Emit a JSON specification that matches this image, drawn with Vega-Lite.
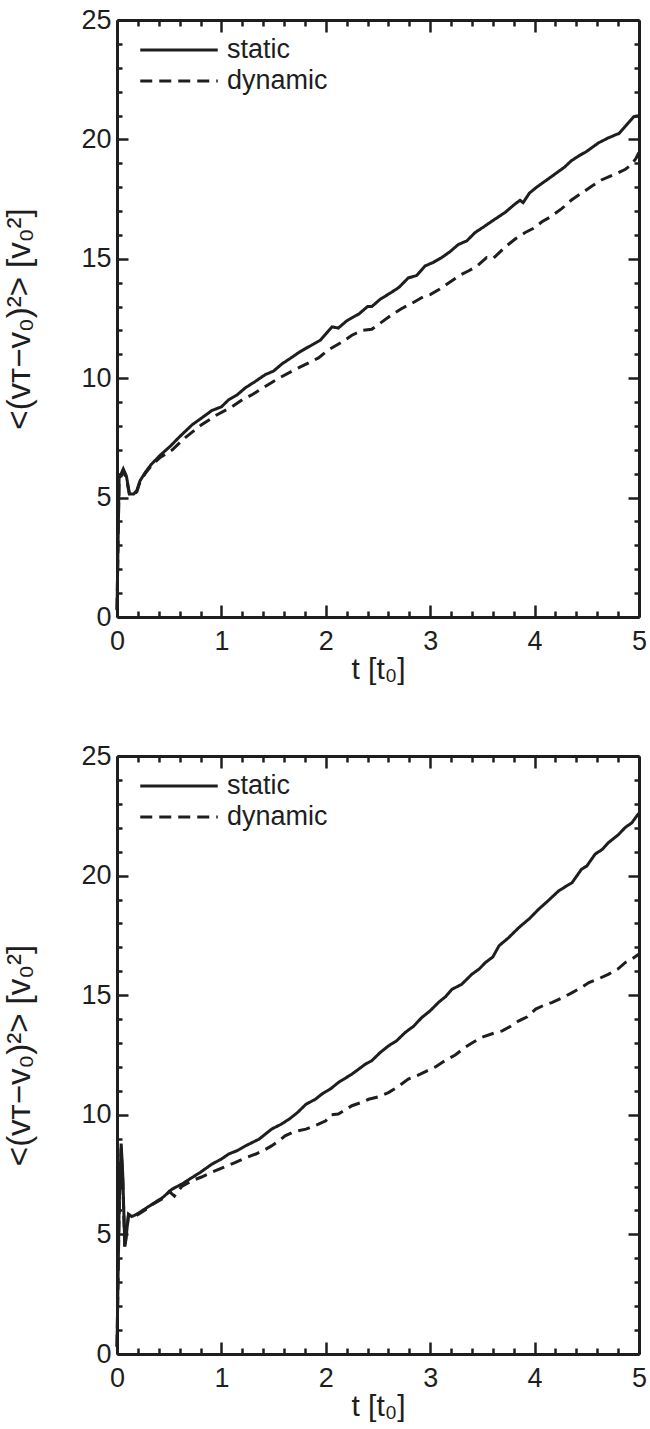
{
  "$schema": "https://vega.github.io/schema/vega-lite/v6.json",
  "background": "white",
  "padding": {"left": 3, "top": 6, "right": 4, "bottom": 4},
  "spacing": 139,
  "bounds": "flush",
  "datasets": {
    "curves": [
      {"panel":"top","series":"static","t":0,"v":0.3},{"panel":"top","series":"static","t":0.02,"v":5.8},{"panel":"top","series":"static","t":0.06,"v":6.2},{"panel":"top","series":"static","t":0.09,"v":5.9},{"panel":"top","series":"static","t":0.12,"v":5.15},{"panel":"top","series":"static","t":0.16,"v":5.15},{"panel":"top","series":"static","t":0.19,"v":5.3},{"panel":"top","series":"static","t":0.22,"v":5.7},{"panel":"top","series":"static","t":0.27,"v":6.05},{"panel":"top","series":"static","t":0.33,"v":6.4},{"panel":"top","series":"static","t":0.42,"v":6.8},{"panel":"top","series":"static","t":0.51,"v":7.15},{"panel":"top","series":"static","t":0.6,"v":7.55},{"panel":"top","series":"static","t":0.72,"v":8.05},{"panel":"top","series":"static","t":0.8,"v":8.3},{"panel":"top","series":"static","t":0.91,"v":8.65},{"panel":"top","series":"static","t":1.0,"v":8.8},{"panel":"top","series":"static","t":1.07,"v":9.1},{"panel":"top","series":"static","t":1.15,"v":9.3},{"panel":"top","series":"static","t":1.23,"v":9.6},{"panel":"top","series":"static","t":1.32,"v":9.85},{"panel":"top","series":"static","t":1.42,"v":10.15},{"panel":"top","series":"static","t":1.5,"v":10.3},{"panel":"top","series":"static","t":1.58,"v":10.6},{"panel":"top","series":"static","t":1.65,"v":10.8},{"panel":"top","series":"static","t":1.75,"v":11.1},{"panel":"top","series":"static","t":1.87,"v":11.4},{"panel":"top","series":"static","t":1.95,"v":11.6},{"panel":"top","series":"static","t":2.06,"v":12.15},{"panel":"top","series":"static","t":2.12,"v":12.1},{"panel":"top","series":"static","t":2.2,"v":12.4},{"panel":"top","series":"static","t":2.32,"v":12.7},{"panel":"top","series":"static","t":2.4,"v":13.0},{"panel":"top","series":"static","t":2.44,"v":13.0},{"panel":"top","series":"static","t":2.52,"v":13.3},{"panel":"top","series":"static","t":2.63,"v":13.6},{"panel":"top","series":"static","t":2.7,"v":13.8},{"panel":"top","series":"static","t":2.79,"v":14.2},{"panel":"top","series":"static","t":2.87,"v":14.3},{"panel":"top","series":"static","t":2.95,"v":14.7},{"panel":"top","series":"static","t":3.03,"v":14.85},{"panel":"top","series":"static","t":3.11,"v":15.05},{"panel":"top","series":"static","t":3.19,"v":15.3},{"panel":"top","series":"static","t":3.27,"v":15.6},{"panel":"top","series":"static","t":3.35,"v":15.75},{"panel":"top","series":"static","t":3.43,"v":16.1},{"panel":"top","series":"static","t":3.5,"v":16.3},{"panel":"top","series":"static","t":3.6,"v":16.6},{"panel":"top","series":"static","t":3.72,"v":16.95},{"panel":"top","series":"static","t":3.8,"v":17.25},{"panel":"top","series":"static","t":3.86,"v":17.45},{"panel":"top","series":"static","t":3.89,"v":17.35},{"panel":"top","series":"static","t":3.95,"v":17.75},{"panel":"top","series":"static","t":4.02,"v":18.0},{"panel":"top","series":"static","t":4.1,"v":18.25},{"panel":"top","series":"static","t":4.18,"v":18.5},{"panel":"top","series":"static","t":4.29,"v":18.85},{"panel":"top","series":"static","t":4.35,"v":19.1},{"panel":"top","series":"static","t":4.42,"v":19.3},{"panel":"top","series":"static","t":4.5,"v":19.5},{"panel":"top","series":"static","t":4.61,"v":19.85},{"panel":"top","series":"static","t":4.7,"v":20.05},{"panel":"top","series":"static","t":4.78,"v":20.2},{"panel":"top","series":"static","t":4.81,"v":20.25},{"panel":"top","series":"static","t":4.88,"v":20.6},{"panel":"top","series":"static","t":4.95,"v":20.95},{"panel":"top","series":"static","t":5.0,"v":21.0},
      {"panel":"top","series":"dynamic","t":0,"v":0.3},{"panel":"top","series":"dynamic","t":0.02,"v":5.7},{"panel":"top","series":"dynamic","t":0.06,"v":6.1},{"panel":"top","series":"dynamic","t":0.09,"v":5.8},{"panel":"top","series":"dynamic","t":0.12,"v":5.1},{"panel":"top","series":"dynamic","t":0.16,"v":5.1},{"panel":"top","series":"dynamic","t":0.19,"v":5.25},{"panel":"top","series":"dynamic","t":0.22,"v":5.65},{"panel":"top","series":"dynamic","t":0.27,"v":6.0},{"panel":"top","series":"dynamic","t":0.33,"v":6.35},{"panel":"top","series":"dynamic","t":0.42,"v":6.7},{"panel":"top","series":"dynamic","t":0.53,"v":7.0},{"panel":"top","series":"dynamic","t":0.65,"v":7.5},{"panel":"top","series":"dynamic","t":0.81,"v":8.05},{"panel":"top","series":"dynamic","t":0.95,"v":8.45},{"panel":"top","series":"dynamic","t":1.1,"v":8.8},{"panel":"top","series":"dynamic","t":1.2,"v":9.1},{"panel":"top","series":"dynamic","t":1.29,"v":9.3},{"panel":"top","series":"dynamic","t":1.4,"v":9.6},{"panel":"top","series":"dynamic","t":1.55,"v":10.0},{"panel":"top","series":"dynamic","t":1.7,"v":10.35},{"panel":"top","series":"dynamic","t":1.84,"v":10.65},{"panel":"top","series":"dynamic","t":1.93,"v":10.85},{"panel":"top","series":"dynamic","t":2.03,"v":11.2},{"panel":"top","series":"dynamic","t":2.15,"v":11.5},{"panel":"top","series":"dynamic","t":2.25,"v":11.8},{"panel":"top","series":"dynamic","t":2.35,"v":12.0},{"panel":"top","series":"dynamic","t":2.44,"v":12.05},{"panel":"top","series":"dynamic","t":2.52,"v":12.3},{"panel":"top","series":"dynamic","t":2.63,"v":12.65},{"panel":"top","series":"dynamic","t":2.72,"v":12.9},{"panel":"top","series":"dynamic","t":2.83,"v":13.15},{"panel":"top","series":"dynamic","t":2.93,"v":13.4},{"panel":"top","series":"dynamic","t":3.0,"v":13.5},{"panel":"top","series":"dynamic","t":3.08,"v":13.7},{"panel":"top","series":"dynamic","t":3.18,"v":14.0},{"panel":"top","series":"dynamic","t":3.28,"v":14.3},{"panel":"top","series":"dynamic","t":3.37,"v":14.5},{"panel":"top","series":"dynamic","t":3.45,"v":14.7},{"panel":"top","series":"dynamic","t":3.54,"v":15.05},{"panel":"top","series":"dynamic","t":3.6,"v":15.0},{"panel":"top","series":"dynamic","t":3.72,"v":15.5},{"panel":"top","series":"dynamic","t":3.82,"v":15.85},{"panel":"top","series":"dynamic","t":3.91,"v":16.1},{"panel":"top","series":"dynamic","t":4.0,"v":16.3},{"panel":"top","series":"dynamic","t":4.07,"v":16.55},{"panel":"top","series":"dynamic","t":4.15,"v":16.75},{"panel":"top","series":"dynamic","t":4.26,"v":17.1},{"panel":"top","series":"dynamic","t":4.35,"v":17.45},{"panel":"top","series":"dynamic","t":4.45,"v":17.75},{"panel":"top","series":"dynamic","t":4.55,"v":18.05},{"panel":"top","series":"dynamic","t":4.64,"v":18.3},{"panel":"top","series":"dynamic","t":4.72,"v":18.45},{"panel":"top","series":"dynamic","t":4.8,"v":18.6},{"panel":"top","series":"dynamic","t":4.87,"v":18.75},{"panel":"top","series":"dynamic","t":4.93,"v":18.95},{"panel":"top","series":"dynamic","t":4.97,"v":19.2},{"panel":"top","series":"dynamic","t":5.0,"v":19.45},
      {"panel":"bottom","series":"static","t":0,"v":0.3},{"panel":"bottom","series":"static","t":0.02,"v":6.0},{"panel":"bottom","series":"static","t":0.04,"v":8.8},{"panel":"bottom","series":"static","t":0.055,"v":7.5},{"panel":"bottom","series":"static","t":0.075,"v":4.5},{"panel":"bottom","series":"static","t":0.09,"v":5.0},{"panel":"bottom","series":"static","t":0.11,"v":5.85},{"panel":"bottom","series":"static","t":0.14,"v":5.75},{"panel":"bottom","series":"static","t":0.17,"v":5.8},{"panel":"bottom","series":"static","t":0.21,"v":5.9},{"panel":"bottom","series":"static","t":0.28,"v":6.1},{"panel":"bottom","series":"static","t":0.34,"v":6.27},{"panel":"bottom","series":"static","t":0.44,"v":6.55},{"panel":"bottom","series":"static","t":0.53,"v":6.9},{"panel":"bottom","series":"static","t":0.62,"v":7.1},{"panel":"bottom","series":"static","t":0.72,"v":7.38},{"panel":"bottom","series":"static","t":0.8,"v":7.6},{"panel":"bottom","series":"static","t":0.91,"v":7.94},{"panel":"bottom","series":"static","t":1.0,"v":8.15},{"panel":"bottom","series":"static","t":1.07,"v":8.36},{"panel":"bottom","series":"static","t":1.15,"v":8.5},{"panel":"bottom","series":"static","t":1.23,"v":8.7},{"panel":"bottom","series":"static","t":1.36,"v":8.98},{"panel":"bottom","series":"static","t":1.48,"v":9.4},{"panel":"bottom","series":"static","t":1.57,"v":9.6},{"panel":"bottom","series":"static","t":1.65,"v":9.82},{"panel":"bottom","series":"static","t":1.73,"v":10.1},{"panel":"bottom","series":"static","t":1.81,"v":10.44},{"panel":"bottom","series":"static","t":1.9,"v":10.65},{"panel":"bottom","series":"static","t":1.96,"v":10.86},{"panel":"bottom","series":"static","t":2.05,"v":11.1},{"panel":"bottom","series":"static","t":2.12,"v":11.35},{"panel":"bottom","series":"static","t":2.25,"v":11.7},{"panel":"bottom","series":"static","t":2.38,"v":12.12},{"panel":"bottom","series":"static","t":2.44,"v":12.26},{"panel":"bottom","series":"static","t":2.52,"v":12.6},{"panel":"bottom","series":"static","t":2.6,"v":12.88},{"panel":"bottom","series":"static","t":2.68,"v":13.1},{"panel":"bottom","series":"static","t":2.76,"v":13.44},{"panel":"bottom","series":"static","t":2.84,"v":13.7},{"panel":"bottom","series":"static","t":2.92,"v":14.07},{"panel":"bottom","series":"static","t":3.0,"v":14.35},{"panel":"bottom","series":"static","t":3.08,"v":14.7},{"panel":"bottom","series":"static","t":3.15,"v":14.95},{"panel":"bottom","series":"static","t":3.21,"v":15.25},{"panel":"bottom","series":"static","t":3.3,"v":15.45},{"panel":"bottom","series":"static","t":3.4,"v":15.88},{"panel":"bottom","series":"static","t":3.47,"v":16.1},{"panel":"bottom","series":"static","t":3.53,"v":16.37},{"panel":"bottom","series":"static","t":3.6,"v":16.6},{"panel":"bottom","series":"static","t":3.66,"v":17.07},{"panel":"bottom","series":"static","t":3.75,"v":17.4},{"panel":"bottom","series":"static","t":3.85,"v":17.83},{"panel":"bottom","series":"static","t":3.95,"v":18.2},{"panel":"bottom","series":"static","t":4.04,"v":18.6},{"panel":"bottom","series":"static","t":4.13,"v":18.95},{"panel":"bottom","series":"static","t":4.23,"v":19.36},{"panel":"bottom","series":"static","t":4.3,"v":19.55},{"panel":"bottom","series":"static","t":4.36,"v":19.71},{"panel":"bottom","series":"static","t":4.45,"v":20.27},{"panel":"bottom","series":"static","t":4.5,"v":20.4},{"panel":"bottom","series":"static","t":4.58,"v":20.9},{"panel":"bottom","series":"static","t":4.65,"v":21.1},{"panel":"bottom","series":"static","t":4.71,"v":21.39},{"panel":"bottom","series":"static","t":4.8,"v":21.7},{"panel":"bottom","series":"static","t":4.87,"v":22.02},{"panel":"bottom","series":"static","t":4.93,"v":22.2},{"panel":"bottom","series":"static","t":4.98,"v":22.5},{"panel":"bottom","series":"static","t":5.0,"v":22.6},
      {"panel":"bottom","series":"dynamic","t":0,"v":0.3},{"panel":"bottom","series":"dynamic","t":0.02,"v":5.8},{"panel":"bottom","series":"dynamic","t":0.04,"v":8.6},{"panel":"bottom","series":"dynamic","t":0.055,"v":7.3},{"panel":"bottom","series":"dynamic","t":0.075,"v":4.4},{"panel":"bottom","series":"dynamic","t":0.09,"v":5.0},{"panel":"bottom","series":"dynamic","t":0.11,"v":5.8},{"panel":"bottom","series":"dynamic","t":0.14,"v":5.7},{"panel":"bottom","series":"dynamic","t":0.17,"v":5.75},{"panel":"bottom","series":"dynamic","t":0.21,"v":5.85},{"panel":"bottom","series":"dynamic","t":0.28,"v":6.05},{"panel":"bottom","series":"dynamic","t":0.34,"v":6.25},{"panel":"bottom","series":"dynamic","t":0.44,"v":6.5},{"panel":"bottom","series":"dynamic","t":0.5,"v":6.8},{"panel":"bottom","series":"dynamic","t":0.55,"v":6.6},{"panel":"bottom","series":"dynamic","t":0.62,"v":7.0},{"panel":"bottom","series":"dynamic","t":0.72,"v":7.25},{"panel":"bottom","series":"dynamic","t":0.81,"v":7.4},{"panel":"bottom","series":"dynamic","t":0.91,"v":7.6},{"panel":"bottom","series":"dynamic","t":1.02,"v":7.8},{"panel":"bottom","series":"dynamic","t":1.13,"v":8.0},{"panel":"bottom","series":"dynamic","t":1.23,"v":8.2},{"panel":"bottom","series":"dynamic","t":1.33,"v":8.36},{"panel":"bottom","series":"dynamic","t":1.4,"v":8.5},{"panel":"bottom","series":"dynamic","t":1.48,"v":8.7},{"panel":"bottom","series":"dynamic","t":1.55,"v":8.9},{"panel":"bottom","series":"dynamic","t":1.61,"v":9.12},{"panel":"bottom","series":"dynamic","t":1.7,"v":9.3},{"panel":"bottom","series":"dynamic","t":1.81,"v":9.4},{"panel":"bottom","series":"dynamic","t":1.87,"v":9.5},{"panel":"bottom","series":"dynamic","t":1.93,"v":9.61},{"panel":"bottom","series":"dynamic","t":2.0,"v":9.75},{"panel":"bottom","series":"dynamic","t":2.05,"v":10.0},{"panel":"bottom","series":"dynamic","t":2.12,"v":10.03},{"panel":"bottom","series":"dynamic","t":2.25,"v":10.38},{"panel":"bottom","series":"dynamic","t":2.33,"v":10.5},{"panel":"bottom","series":"dynamic","t":2.41,"v":10.65},{"panel":"bottom","series":"dynamic","t":2.5,"v":10.75},{"panel":"bottom","series":"dynamic","t":2.6,"v":10.93},{"panel":"bottom","series":"dynamic","t":2.7,"v":11.2},{"panel":"bottom","series":"dynamic","t":2.79,"v":11.49},{"panel":"bottom","series":"dynamic","t":2.88,"v":11.65},{"panel":"bottom","series":"dynamic","t":2.97,"v":11.84},{"panel":"bottom","series":"dynamic","t":3.05,"v":12.0},{"panel":"bottom","series":"dynamic","t":3.14,"v":12.26},{"panel":"bottom","series":"dynamic","t":3.24,"v":12.5},{"panel":"bottom","series":"dynamic","t":3.33,"v":12.81},{"panel":"bottom","series":"dynamic","t":3.4,"v":13.0},{"panel":"bottom","series":"dynamic","t":3.49,"v":13.23},{"panel":"bottom","series":"dynamic","t":3.6,"v":13.4},{"panel":"bottom","series":"dynamic","t":3.69,"v":13.51},{"panel":"bottom","series":"dynamic","t":3.77,"v":13.7},{"panel":"bottom","series":"dynamic","t":3.85,"v":13.93},{"panel":"bottom","series":"dynamic","t":3.93,"v":14.1},{"panel":"bottom","series":"dynamic","t":4.01,"v":14.42},{"panel":"bottom","series":"dynamic","t":4.1,"v":14.6},{"panel":"bottom","series":"dynamic","t":4.17,"v":14.7},{"panel":"bottom","series":"dynamic","t":4.27,"v":14.9},{"panel":"bottom","series":"dynamic","t":4.36,"v":15.11},{"panel":"bottom","series":"dynamic","t":4.44,"v":15.3},{"panel":"bottom","series":"dynamic","t":4.52,"v":15.53},{"panel":"bottom","series":"dynamic","t":4.62,"v":15.7},{"panel":"bottom","series":"dynamic","t":4.71,"v":15.88},{"panel":"bottom","series":"dynamic","t":4.8,"v":16.1},{"panel":"bottom","series":"dynamic","t":4.87,"v":16.37},{"panel":"bottom","series":"dynamic","t":4.93,"v":16.5},{"panel":"bottom","series":"dynamic","t":5.0,"v":16.72}
    ]
  },
  "config": {
    "view": {"stroke": null},
    "font": "Liberation Sans, Arial, sans-serif",
    "axis": {
      "grid": false,
      "domainColor": "#1e1e1e",
      "domainWidth": 3,
      "tickColor": "#1e1e1e",
      "tickWidth": 2.5,
      "labelColor": "#1e1e1e",
      "labelFont": "Liberation Sans, Arial, sans-serif",
      "labelFontSize": 27,
      "titleFont": "Liberation Sans, DejaVu Sans, sans-serif",
      "titleFontSize": 30,
      "titleFontWeight": "normal",
      "titleColor": "#1e1e1e"
    },
    "legend": {
      "labelFont": "Liberation Sans, Arial, sans-serif",
      "labelFontSize": 27,
      "labelColor": "#1e1e1e"
    }
  },
  "resolve": {"legend": {"strokeDash": "independent"}, "scale": {"x": "independent", "y": "independent", "strokeDash": "independent"}},
  "vconcat": [
    {
      "width": 522,
      "height": 597,
      "data": {"name": "curves"},
      "transform": [{"filter": "datum.panel === 'top'"}],
      "layer": [
        {
          "mark": {"type": "line", "strokeWidth": 3, "color": "#1e1e1e"},
          "encoding": {
            "x": {"field": "t", "type": "quantitative", "scale": {"domain": [0, 5], "nice": false},
              "axis": {"orient": "bottom", "title": "t [t₀]", "titlePadding": -6,
                "values": [0,0.2,0.4,0.6,0.8,1,1.2,1.4,1.6,1.8,2,2.2,2.4,2.6,2.8,3,3.2,3.4,3.6,3.8,4,4.2,4.4,4.6,4.8,5],
                "labelExpr": "datum.value % 1 === 0 ? format(datum.value, 'd') : ''",
                "labelOverlap": false,
                "tickSize": {"condition": {"test": "datum.value % 1 === 0", "value": -12}, "value": -6},
                "labelPadding": 23, "labelFlush": false}},
            "y": {"field": "v", "type": "quantitative", "scale": {"domain": [0, 25], "nice": false},
              "axis": {"orient": "left", "title": "<(vᴛ−v₀)²> [v₀²]", "titleFontSize": 33, "titlePadding": 44,
                "values": [0,1,2,3,4,5,6,7,8,9,10,11,12,13,14,15,16,17,18,19,20,21,22,23,24,25],
                "labelExpr": "datum.value % 5 === 0 ? format(datum.value, 'd') : ''",
                "labelOverlap": false,
                "tickSize": {"condition": {"test": "datum.value % 5 === 0", "value": -11}, "value": -5},
                "labelPadding": 17, "labelFlush": false}},
            "strokeDash": {"field": "series", "type": "nominal",
              "scale": {"domain": ["static", "dynamic"], "range": [[1, 0], [12, 7]]},
              "legend": {"orient": "none", "legendX": 45, "legendY": 13, "title": null,
                "symbolType": "M-2.5,0H2.5", "symbolSize": 961, "symbolStrokeWidth": 3,
                "symbolStrokeColor": "#1e1e1e", "symbolFillColor": "transparent", "rowPadding": 1, "labelOffset": 31, "padding": 0}}
          }
        },
        {
          "mark": {"type": "point", "opacity": 0},
          "encoding": {
            "x": {"field": "t", "type": "quantitative",
              "axis": {"orient": "top", "title": null, "labels": false,
                "values": [0,0.2,0.4,0.6,0.8,1,1.2,1.4,1.6,1.8,2,2.2,2.4,2.6,2.8,3,3.2,3.4,3.6,3.8,4,4.2,4.4,4.6,4.8,5],
                "tickSize": {"condition": {"test": "datum.value % 1 === 0", "value": -12}, "value": -6}}},
            "y": {"field": "v", "type": "quantitative",
              "axis": {"orient": "right", "title": null, "labels": false,
                "values": [0,1,2,3,4,5,6,7,8,9,10,11,12,13,14,15,16,17,18,19,20,21,22,23,24,25],
                "tickSize": {"condition": {"test": "datum.value % 5 === 0", "value": -11}, "value": -5}}}
          }
        }
      ],
      "resolve": {"axis": {"x": "independent", "y": "independent"}}
    },
    {
      "width": 522,
      "height": 598,
      "data": {"name": "curves"},
      "transform": [{"filter": "datum.panel === 'bottom'"}],
      "layer": [
        {
          "mark": {"type": "line", "strokeWidth": 3, "color": "#1e1e1e"},
          "encoding": {
            "x": {"field": "t", "type": "quantitative", "scale": {"domain": [0, 5], "nice": false},
              "axis": {"orient": "bottom", "title": "t [t₀]", "titlePadding": -6,
                "values": [0,0.2,0.4,0.6,0.8,1,1.2,1.4,1.6,1.8,2,2.2,2.4,2.6,2.8,3,3.2,3.4,3.6,3.8,4,4.2,4.4,4.6,4.8,5],
                "labelExpr": "datum.value % 1 === 0 ? format(datum.value, 'd') : ''",
                "labelOverlap": false,
                "tickSize": {"condition": {"test": "datum.value % 1 === 0", "value": -12}, "value": -6},
                "labelPadding": 23, "labelFlush": false}},
            "y": {"field": "v", "type": "quantitative", "scale": {"domain": [0, 25], "nice": false},
              "axis": {"orient": "left", "title": "<(vᴛ−v₀)²> [v₀²]", "titleFontSize": 33, "titlePadding": 44,
                "values": [0,1,2,3,4,5,6,7,8,9,10,11,12,13,14,15,16,17,18,19,20,21,22,23,24,25],
                "labelExpr": "datum.value % 5 === 0 ? format(datum.value, 'd') : ''",
                "labelOverlap": false,
                "tickSize": {"condition": {"test": "datum.value % 5 === 0", "value": -11}, "value": -5},
                "labelPadding": 17, "labelFlush": false}},
            "strokeDash": {"field": "series", "type": "nominal",
              "scale": {"domain": ["static", "dynamic"], "range": [[1, 0], [12, 7]]},
              "legend": {"orient": "none", "legendX": 45, "legendY": 13, "title": null,
                "symbolType": "M-2.5,0H2.5", "symbolSize": 961, "symbolStrokeWidth": 3,
                "symbolStrokeColor": "#1e1e1e", "symbolFillColor": "transparent", "rowPadding": 1, "labelOffset": 31, "padding": 0}}
          }
        },
        {
          "mark": {"type": "point", "opacity": 0},
          "encoding": {
            "x": {"field": "t", "type": "quantitative",
              "axis": {"orient": "top", "title": null, "labels": false,
                "values": [0,0.2,0.4,0.6,0.8,1,1.2,1.4,1.6,1.8,2,2.2,2.4,2.6,2.8,3,3.2,3.4,3.6,3.8,4,4.2,4.4,4.6,4.8,5],
                "tickSize": {"condition": {"test": "datum.value % 1 === 0", "value": -12}, "value": -6}}},
            "y": {"field": "v", "type": "quantitative",
              "axis": {"orient": "right", "title": null, "labels": false,
                "values": [0,1,2,3,4,5,6,7,8,9,10,11,12,13,14,15,16,17,18,19,20,21,22,23,24,25],
                "tickSize": {"condition": {"test": "datum.value % 5 === 0", "value": -11}, "value": -5}}}
          }
        }
      ],
      "resolve": {"axis": {"x": "independent", "y": "independent"}}
    }
  ]
}
